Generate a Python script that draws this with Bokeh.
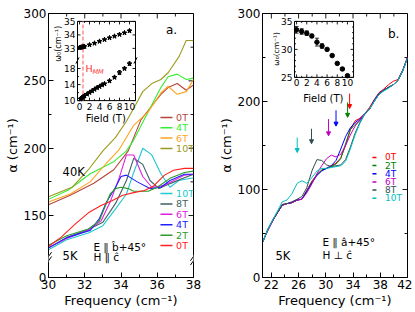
import math
from bokeh.plotting import figure
from bokeh.layouts import row
from bokeh.models import Range1d, FixedTicker, Arrow, NormalHead
from bokeh.core.properties import value
from bokeh.embed import file_html
from bokeh.resources import INLINE

FONT = "DejaVu Sans"

# ======================= DATA =======================
# ---- panel a : E || b+45deg, H || c ----
a_xticks = [30, 32, 34, 36, 38]
a_xminor = [31, 33, 35, 37]
a_yticks = [104, 150, 200, 250, 300]
a_ylabels = {104: "0"}
a_yminor = [175, 225, 275]

# 40 K spectra
a40_labels = ["0T", "4T", "6T", "10T"]
a40_colors = ["#b5443c", "#33ee33", "#ffa41c", "#9c9a1c"]
a40_f_0T = [30.0, 31.2, 32.5, 33.6, 34.4, 35.1, 35.5, 36.2, 36.6, 37.1, 37.6, 38.0]
a40_v_0T = [158, 165, 174, 184, 198, 221, 228, 240, 245, 248, 243, 247]
a40_f_4T = [30.0, 31.1, 32.3, 33.6, 34.3, 34.7, 35.5, 36.2, 36.6, 37.1, 37.6, 38.0]
a40_v_4T = [162, 169, 181, 190, 198, 206, 227, 245, 253, 255, 251, 252]
a40_f_6T = [30.0, 31.2, 32.3, 33.2, 33.9, 34.7, 35.1, 35.5, 36.2, 36.6, 37.1, 37.6, 38.0]
a40_v_6T = [160, 166, 175, 189, 199, 217, 222, 227, 241, 246, 240, 242, 251]
a40_f_10T = [30.0, 31.3, 32.2, 33.0, 33.7, 34.3, 34.8, 35.2, 35.7, 36.2, 36.6, 37.2, 37.6, 38.0]
a40_v_10T = [164, 171, 184, 198, 208, 220, 232, 242, 248, 251, 256, 268, 280, 280]

# 5 K spectra
a5_labels = ["10T", "8T", "6T", "4T", "2T", "0T"]
a5_colors = ["#20c8d0", "#3f5f5f", "#e020e0", "#2020ff", "#2c9a2c", "#ff2020"]
a5_f_0T = [30.0, 30.7, 31.5, 32.2, 32.9, 33.5, 34.1, 34.7, 35.3, 35.8, 36.4, 36.9, 37.5, 38.0]
a5_v_0T = [127, 134, 144, 152, 157.5, 161, 165, 167, 168.6, 172, 180, 183.6, 185, 185]
a5_f_2T = [30.0, 31.0, 32.2, 32.8, 33.1, 33.4, 33.7, 34.0, 34.4, 34.7, 35.5, 36.0, 36.7, 37.5, 38.0]
a5_v_2T = [128, 135, 140, 146, 156, 166, 170, 171, 170, 168, 168, 171, 177.6, 182, 183]
a5_f_4T = [30.0, 31.0, 32.3, 32.8, 33.2, 33.7, 34.0, 34.3, 34.9, 35.6, 36.2, 36.7, 37.5, 38.0]
a5_v_4T = [126, 133.6, 139, 147.5, 160, 171, 179, 180, 175, 170, 171, 176, 180.6, 180.6]
a5_f_6T = [30.0, 31.0, 32.2, 32.9, 33.4, 33.9, 34.3, 34.7, 35.2, 35.7, 36.3, 36.7, 37.5, 38.0]
a5_v_6T = [126, 133, 139, 146, 160, 178, 195, 195, 179, 171, 172, 174.6, 180, 180.6]
a5_f_8T = [30.0, 31.0, 32.2, 33.0, 33.7, 34.3, 34.7, 35.2, 35.6, 36.1, 36.7, 37.5, 38.0]
a5_v_8T = [126, 133.6, 139.6, 145, 159, 176, 192.5, 188, 176, 170, 173.7, 178, 180.6]
a5_f_10T = [30.0, 31.0, 32.2, 33.0, 33.7, 34.3, 34.7, 35.2, 35.7, 36.2, 36.7, 37.2, 38.0]
a5_v_10T = [124.6, 132, 137, 142.5, 155, 166, 182, 200, 195, 181, 171, 176, 178]

# inset a : omega0 vs field (two branches)
ia_xticks = [0, 2, 4, 6, 8, 10]
ia_xminor = [1, 3, 5, 7, 9]
ia_hi_ticks = [33, 34, 35]
ia_lo_ticks = [10, 14, 18]
ia_lo_minor = [12, 16]
ia_B_hi = [0.0, 0.2, 0.4, 0.6, 0.8, 1, 2, 3, 4, 5, 6, 7, 8, 9, 10]
ia_w_hi = [33.05, 33.07, 33.09, 33.1, 33.12, 33.14, 33.26, 33.38, 33.52, 33.65, 33.78, 33.9, 34.03, 34.15, 34.3]
ia_e_hi = [0.04] * 14 + [0.08]
ia_B_lo = [0.2, 0.4, 0.6, 0.8, 1.0, 1.5, 2.0, 2.5, 3.0, 3.5, 4.0, 4.5, 5.0, 6.0, 7.0, 8.0, 9.0, 10.0]
ia_w_lo = [10.4, 10.6, 10.8, 11.0, 11.2, 11.6, 12.0, 12.4, 12.8, 13.2, 13.5, 13.9, 14.2, 14.9, 15.8, 17.0, 18.0, 19.2]
ia_e_lo = [0.1] * 13 + [0.2, 0.3, 0.5, 0.3, 0.4]
H_MM = 0.7

# ---- panel b : E || a+45deg, H perp c ----
b_xticks = [22, 26, 30, 34, 38, 42]
b_xminor = [24, 28, 32, 36, 40]
b_yticks = [0, 100, 200, 300]
b_yminor = [50, 150, 250]
b_labels = ["0T", "2T", "4T", "6T", "8T", "10T"]
b_colors = ["#ff0000", "#008000", "#0000ff", "#c000c0", "#2f4f4f", "#00bfbf"]
b_f = [20.7, 21.5, 22.3, 23.0, 23.6, 24.3, 25.0, 25.8, 26.5, 27.2, 28.0, 28.7, 29.4, 30.1, 30.8, 31.5,
       32.2, 32.9, 33.6, 34.3, 35.0, 35.7, 36.4, 37.1, 37.8, 38.5, 39.2, 39.9, 40.6, 41.3, 42.0]
b_v_0T = [40, 54, 66, 75, 83, 84, 85, 88, 89, 99, 110, 117, 122, 124, 127, 130,
          136, 150, 168, 178, 181, 186, 193, 202, 210, 214, 219, 223, 225, 236, 250]
b_v_2T = [40, 55, 66, 75, 82, 84, 85, 88, 89, 98, 109, 117, 122, 124, 126, 129,
          135, 152, 168, 174, 178, 186, 191, 201, 209, 212, 216, 219, 224, 235, 250]
b_v_4T = [40, 54, 66, 75, 82, 84, 85, 88, 89, 98, 108, 116, 121, 124, 127, 133,
          146, 160, 170, 176, 180, 186, 191, 201, 209, 213, 216, 219, 224, 235, 250]
b_v_6T = [40, 54, 66, 75, 82, 84, 85, 88, 89, 96, 107, 118, 127, 135, 139, 137,
          140, 150, 162, 172, 179, 186, 191, 200, 208, 213, 216, 219, 224, 235, 250]
b_v_8T = [40, 55, 67, 75, 83, 84, 86, 89, 92, 102, 122, 134, 133, 128, 126, 127,
          128, 134, 148, 164, 176, 185, 191, 200, 208, 213, 216, 219, 224, 235, 249]
b_v_10T = [40, 55, 67, 77, 86, 88, 95, 107, 110, 107, 114, 121, 124, 124, 125, 126,
           127, 132, 146, 162, 175, 186, 191, 200, 208, 212, 215, 219, 224, 235, 249]
b_arrow_f = [33.5, 33.2, 31.5, 30.4, 27.9, 25.8]
b_arrow_top = [209, 199, 190, 180, 169, 159]
b_arrow_tip = [192, 182, 172, 161, 152, 142]

# inset b : omega0 vs field
ib_xticks = [0, 2, 4, 6, 8, 10]
ib_xminor = [1, 3, 5, 7, 9]
ib_yticks = [25, 30, 35]
ib_yminor = [26, 27, 28, 29, 31, 32, 33, 34]
ib_B = [0, 1, 2, 3, 4, 5, 6, 7, 8, 9, 10]
ib_w = [33.5, 33.2, 32.9, 32.4, 31.3, 30.6, 30.0, 28.9, 27.5, 26.5, 25.3]
ib_e = [0.6, 0.5, 0.4, 0.3, 0.7, 0.4, 0.2, 0.2, 0.2, 0.2, 0.2]


# ======================= HELPERS =======================
def span_range(v0, f0, v1, f1):
    k = (v1 - v0) / (f1 - f0)
    s = v0 - f0 * k
    return Range1d(start=s, end=s + k)


def style_axis(ax, ticks, minor, overrides=None):
    ax.ticker = FixedTicker(ticks=ticks, minor_ticks=minor)
    ax.major_tick_in = 5
    ax.major_tick_out = 0
    ax.minor_tick_in = 3
    ax.minor_tick_out = 0
    ax.axis_line_color = "black"
    ax.major_label_text_font = FONT
    ax.major_label_text_color = "black"
    ax.major_label_text_font_size = "12px"
    ax.major_label_standoff = 2
    ax.axis_label_text_font = FONT
    ax.axis_label_text_font_size = "13px"
    ax.axis_label_text_font_style = "normal"
    ax.axis_label_text_color = "black"
    ax.axis_label_standoff = 1
    if overrides:
        ax.major_label_overrides = overrides


def txt(p, xs, ys, texts, size, colors="black", align="left", baseline="middle",
        xr="fx", yr="fy", angle=0.0, xo=0, yo=0, style="normal"):
    p.text(x=xs, y=ys, text=texts, x_range_name=xr, y_range_name=yr,
           text_font=value(FONT), text_font_size=value(size), text_color=colors,
           text_align=align, text_baseline=baseline, angle=angle,
           x_offset=xo, y_offset=yo, text_font_style=style)


def ticks(p, xs, ys, ang, length, xr="default", yr="default"):
    p.ray(x=xs, y=ys, length=length, angle=ang, length_units="screen",
          x_range_name=xr, y_range_name=yr, line_color="black", line_width=0.9)


def mirror_ticks(p, xlim, ylim, xt, xm, yt, ym):
    ticks(p, xt, [ylim[1]] * len(xt), -math.pi / 2, 5)
    ticks(p, xm, [ylim[1]] * len(xm), -math.pi / 2, 3)
    ticks(p, [xlim[1]] * len(yt), yt, math.pi, 5)
    ticks(p, [xlim[1]] * len(ym), ym, math.pi, 3)


def errbars(p, xs, ys, es, xr, yr, cap=3):
    lo = [y - e for y, e in zip(ys, es)]
    hi = [y + e for y, e in zip(ys, es)]
    p.segment(x0=xs, y0=lo, x1=xs, y1=hi, x_range_name=xr, y_range_name=yr,
              line_color="black", line_width=0.8)
    p.scatter(x=list(xs) + list(xs), y=lo + hi, marker="dash", size=cap, x_range_name=xr,
              y_range_name=yr, line_color="black", line_width=0.8)


def make_fig(width, xr, yr, min_left, min_right):
    p = figure(width=width, height=310, x_range=Range1d(*xr), y_range=Range1d(*yr),
               output_backend="svg", toolbar_location=None,
               min_border_left=min_left, min_border_right=min_right,
               min_border_top=13, min_border_bottom=30,
               outline_line_color="black", background_fill_color="white",
               border_fill_color="white")
    p.grid.visible = False
    p.xaxis.axis_label = "Frequency (cm\u207b\u00b9)"
    p.yaxis.axis_label = "\u03b1 (cm\u207b\u00b9)"
    return p


# ======================= PANEL A =======================
a_xlim = (30.0, 38.0)
a_ylim = (104.0, 300.0)
pa = make_fig(208, a_xlim, a_ylim, 48, 15)
style_axis(pa.xaxis[0], a_xticks, a_xminor)
style_axis(pa.yaxis[0], a_yticks, a_yminor, overrides=a_ylabels)

# inset geometry (frame fractions) and inset scales
ia_fx = (0.200, 0.600)
ia_fy = (0.670, 0.822, 0.970)
ia_xlim = (-0.4, 11.2)
ia_hilim = (32.1, 35.0)
ia_lolim = (10.0, 20.0)
pa.extra_x_ranges = {"fx": Range1d(0, 1),
                     "iax": span_range(ia_xlim[0], ia_fx[0], ia_xlim[1], ia_fx[1])}
pa.extra_y_ranges = {"fy": Range1d(0, 1),
                     "iahi": span_range(ia_hilim[0], ia_fy[1], ia_hilim[1], ia_fy[2]),
                     "ialo": span_range(ia_lolim[0], ia_fy[0], ia_lolim[1], ia_fy[1])}

mirror_ticks(pa, a_xlim, a_ylim, a_xticks, a_xminor, a_yticks[1:], a_yminor)

a40 = [(a40_f_0T, a40_v_0T), (a40_f_4T, a40_v_4T), (a40_f_6T, a40_v_6T), (a40_f_10T, a40_v_10T)]
a5 = [(a5_f_10T, a5_v_10T), (a5_f_8T, a5_v_8T), (a5_f_6T, a5_v_6T),
      (a5_f_4T, a5_v_4T), (a5_f_2T, a5_v_2T), (a5_f_0T, a5_v_0T)]
for (f, v), c in zip(a40, a40_colors):
    pa.line(f, v, line_color=c, line_width=1.1)
for (f, v), c in zip(a5, a5_colors):
    pa.line(f, v, line_color=c, line_width=1.1)

# legends a
n = len(a40_labels)
fy_up = [0.606 - 0.039 * i for i in range(n)]
pa.segment(x0=[0.772] * n, y0=fy_up, x1=[0.855] * n, y1=fy_up, x_range_name="fx",
           y_range_name="fy", line_color=a40_colors, line_width=1.5)
txt(pa, [0.88] * n, fy_up, a40_labels, "9.5px", colors=a40_colors)
n = len(a5_labels)
fy_lo = [0.318 - 0.0394 * i for i in range(n)]
pa.segment(x0=[0.772] * n, y0=fy_lo, x1=[0.855] * n, y1=fy_lo, x_range_name="fx",
           y_range_name="fy", line_color=a5_colors, line_width=1.5)
txt(pa, [0.88] * n, fy_lo, a5_labels, "9.5px", colors=a5_colors)

txt(pa, [0.81], [0.936], ["a."], "12px")
txt(pa, [0.097], [0.398], ["40K"], "11.5px")
txt(pa, [0.097], [0.083], ["5K"], "11.5px")
txt(pa, [0.31, 0.31], [0.116, 0.076], ["E \u2225 b\u0302+45\u00b0", "H \u2225 \u0109"], "10.5px")

# axis break marks (panel a main y axis)
brk_y = 118.0
dxb = 0.17
dyb = 3.2
for bx in a_xlim:
    pa.add_layout(Arrow(end=None, x_start=bx - dxb, y_start=brk_y - dyb, x_end=bx + dxb,
                        y_end=brk_y + dyb, line_color="white", line_width=4))
    for s in (-1.6, 1.6):
        pa.add_layout(Arrow(end=None, x_start=bx - dxb, y_start=brk_y + s - dyb,
                            x_end=bx + dxb, y_end=brk_y + s + dyb,
                            line_color="black", line_width=1))

# inset a
pa.quad(left=[ia_fx[0]], right=[ia_fx[1]], bottom=[ia_fy[0]], top=[ia_fy[2]],
        x_range_name="fx", y_range_name="fy", fill_color="white", line_color="black",
        line_width=1)
ticks(pa, ia_xticks, [ia_lolim[0]] * 6, math.pi / 2, 3, "iax", "ialo")
ticks(pa, ia_xminor, [ia_lolim[0]] * 5, math.pi / 2, 1.5, "iax", "ialo")
ticks(pa, ia_xticks, [ia_hilim[1]] * 6, -math.pi / 2, 3, "iax", "iahi")
ticks(pa, ia_xminor, [ia_hilim[1]] * 5, -math.pi / 2, 1.5, "iax", "iahi")
for side, ang in ((ia_xlim[0], 0.0), (ia_xlim[1], math.pi)):
    ticks(pa, [side] * 3, ia_hi_ticks, ang, 3, "iax", "iahi")
    ticks(pa, [side] * 3, ia_lo_ticks, ang, 3, "iax", "ialo")
    ticks(pa, [side] * 2, ia_lo_minor, ang, 1.5, "iax", "ialo")
txt(pa, ia_xticks, [ia_lolim[0]] * 6, [str(t) for t in ia_xticks], "9px",
    align="center", baseline="top", xr="iax", yr="ialo", yo=2)
txt(pa, [ia_xlim[0]] * 3, ia_hi_ticks, [str(t) for t in ia_hi_ticks], "9px",
    align="right", xr="iax", yr="iahi", xo=-2)
txt(pa, [ia_xlim[0]] * 3, ia_lo_ticks, [str(t) for t in ia_lo_ticks], "9px",
    align="right", xr="iax", yr="ialo", xo=-2)
pa.scatter(x=[ia_xlim[0], ia_xlim[1]], y=[ia_fy[1], ia_fy[1]], marker="dash", size=7,
           angle=1.1, x_range_name="iax", y_range_name="fy", line_color="black", line_width=1)
pa.segment(x0=[H_MM], y0=[ia_fy[0]], x1=[H_MM], y1=[ia_fy[2]], x_range_name="iax",
           y_range_name="fy", line_color="#ff8c8c", line_width=1.5, line_dash="4 2")
txt(pa, [H_MM + 0.5], [18.0], ["H"], "9.5px", colors="#ff3030", xr="iax", yr="ialo")
txt(pa, [H_MM + 0.5], [18.0], ["MM"], "6.5px", colors="#ff3030", xr="iax", yr="ialo",
    xo=7, yo=3, style="italic")
errbars(pa, ia_B_hi, ia_w_hi, ia_e_hi, "iax", "iahi")
errbars(pa, ia_B_lo, ia_w_lo, ia_e_lo, "iax", "ialo")
pa.scatter(x=ia_B_hi, y=ia_w_hi, marker="star", size=5, x_range_name="iax",
           y_range_name="iahi", fill_color="black", line_color="black")
pa.scatter(x=ia_B_lo, y=ia_w_lo, marker="star", size=5, x_range_name="iax",
           y_range_name="ialo", fill_color="black", line_color="black")
txt(pa, [0.395], [0.602], ["Field (T)"], "10px", align="center")
txt(pa, [0.069], [0.885], ["\u03c9\u2080(cm\u207b\u00b9)"], "8px", align="center",
    angle=math.pi / 2)

# ======================= PANEL B =======================
b_xlim = (20.7, 42.0)
b_ylim = (0.0, 300.0)
pb = make_fig(204, b_xlim, b_ylim, 54, 5)
style_axis(pb.xaxis[0], b_xticks, b_xminor)
style_axis(pb.yaxis[0], b_yticks, b_yminor)

ib_fx = (0.221, 0.628)
ib_fy = (0.758, 0.970)
ib_xlim = (-0.4, 11.2)
ib_ylim = (25.0, 35.0)
pb.extra_x_ranges = {"fx": Range1d(0, 1),
                     "ibx": span_range(ib_xlim[0], ib_fx[0], ib_xlim[1], ib_fx[1])}
pb.extra_y_ranges = {"fy": Range1d(0, 1),
                     "iby": span_range(ib_ylim[0], ib_fy[0], ib_ylim[1], ib_fy[1])}

mirror_ticks(pb, b_xlim, b_ylim, b_xticks, b_xminor, b_yticks, b_yminor)

b_series = [b_v_0T, b_v_2T, b_v_4T, b_v_6T, b_v_8T, b_v_10T]
for v, c in zip(b_series, b_colors):
    pb.line(b_f, v, line_color=c, line_width=1.0)

for f, y0, y1, c in zip(b_arrow_f, b_arrow_top, b_arrow_tip, b_colors):
    pb.add_layout(Arrow(end=NormalHead(size=4, fill_color=c, line_color=c),
                        x_start=f, y_start=y0, x_end=f, y_end=y1,
                        line_color=c, line_width=1))

n = len(b_labels)
fy_b = [0.455 - 0.031 * i for i in range(n)]
pb.scatter(x=[0.772] * n, y=fy_b, marker="dash", size=4, x_range_name="fx",
           y_range_name="fy", line_color=b_colors, line_width=1.5)
txt(pb, [0.845] * n, fy_b, b_labels, "9px", colors=b_colors)

txt(pb, [0.865], [0.924], ["b."], "12px")
txt(pb, [0.09], [0.080], ["5K"], "11.5px")
txt(pb, [0.414, 0.414], [0.136, 0.087], ["E \u2225 \u00e2+45\u00b0", "H \u22a5 \u0109"], "10.5px")

# inset b
pb.quad(left=[ib_fx[0]], right=[ib_fx[1]], bottom=[ib_fy[0]], top=[ib_fy[1]],
        x_range_name="fx", y_range_name="fy", fill_color="white", line_color="black",
        line_width=1)
ticks(pb, ib_xticks, [ib_ylim[0]] * 6, math.pi / 2, 3, "ibx", "iby")
ticks(pb, ib_xminor, [ib_ylim[0]] * 5, math.pi / 2, 1.5, "ibx", "iby")
ticks(pb, ib_xticks, [ib_ylim[1]] * 6, -math.pi / 2, 3, "ibx", "iby")
ticks(pb, ib_xminor, [ib_ylim[1]] * 5, -math.pi / 2, 1.5, "ibx", "iby")
for side, ang in ((ib_xlim[0], 0.0), (ib_xlim[1], math.pi)):
    ticks(pb, [side] * 3, ib_yticks, ang, 3, "ibx", "iby")
    ticks(pb, [side] * 8, ib_yminor, ang, 1.5, "ibx", "iby")
txt(pb, ib_xticks, [ib_ylim[0]] * 6, [str(t) for t in ib_xticks], "9px",
    align="center", baseline="top", xr="ibx", yr="iby", yo=2)
txt(pb, [ib_xlim[0]] * 3, ib_yticks, [str(t) for t in ib_yticks], "9px",
    align="right", xr="ibx", yr="iby", xo=-2)
errbars(pb, ib_B, ib_w, ib_e, "ibx", "iby", cap=4)
pb.scatter(x=ib_B, y=ib_w, marker="circle", size=4.5, x_range_name="ibx",
           y_range_name="iby", fill_color="black", line_color="black")
txt(pb, [0.42], [0.678], ["Field (T)"], "10px", align="center")
txt(pb, [0.097], [0.866], ["\u03c9\u2080(cm\u207b\u00b9)"], "7.5px", align="center",
    angle=math.pi / 2)

layout = row(pa, pb)
open("out.html", "w").write(file_html(layout, INLINE))
